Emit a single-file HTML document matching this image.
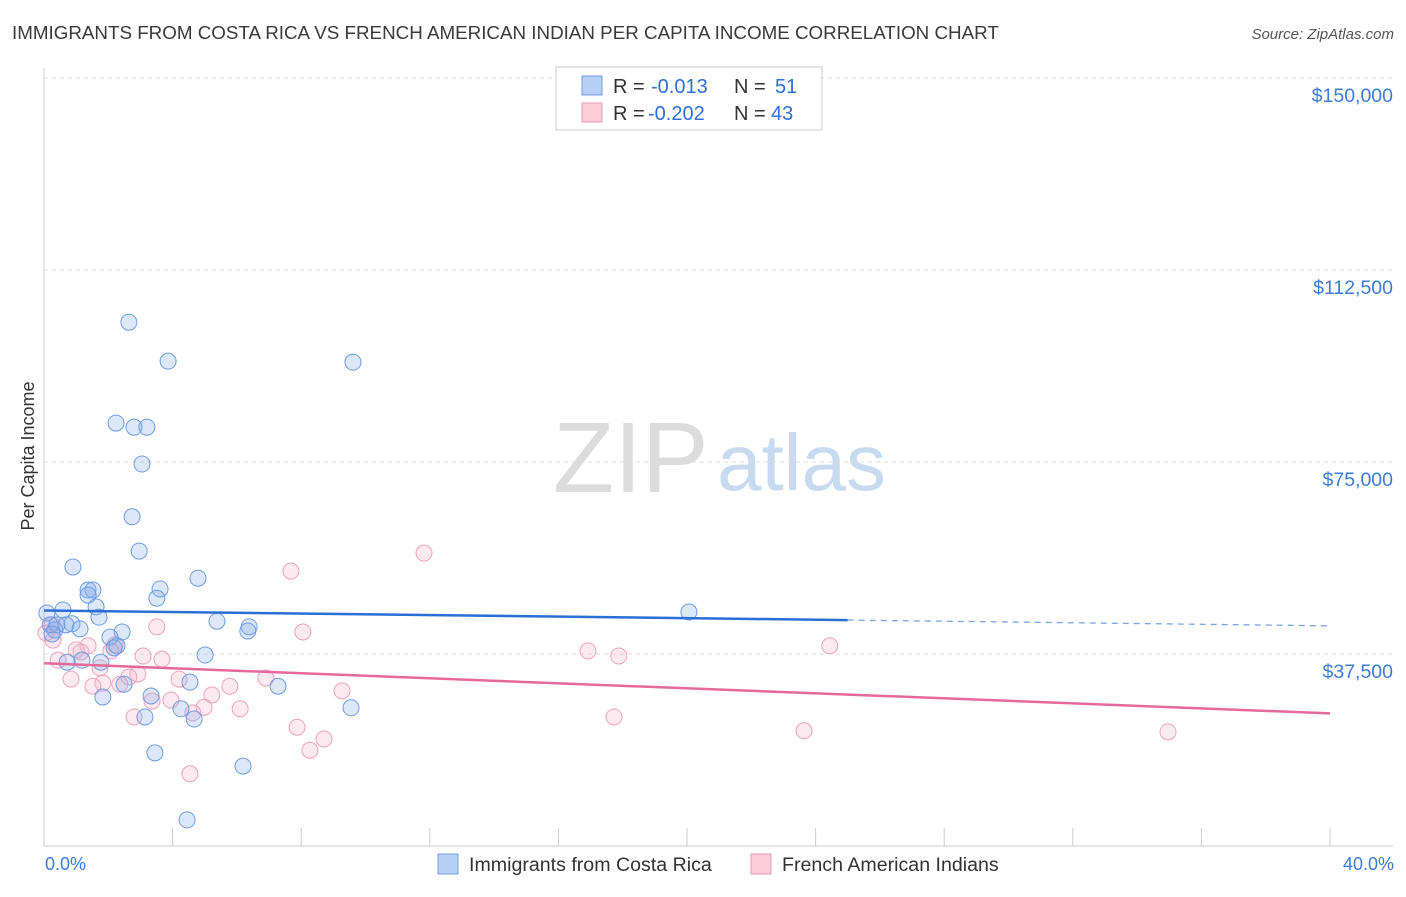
<!DOCTYPE html>
<html><head><meta charset="utf-8"><style>
body{margin:0;background:#fff;font-family:"Liberation Sans",sans-serif;}
svg text{font-family:"Liberation Sans",sans-serif;}
</style></head><body>
<svg id="chart" width="1406" height="892" viewBox="0 0 1406 892" xmlns="http://www.w3.org/2000/svg">
<text x="12" y="39" font-size="18.8" fill="#3a3a3a">IMMIGRANTS FROM COSTA RICA VS FRENCH AMERICAN INDIAN PER CAPITA INCOME CORRELATION CHART</text>
<text x="1394" y="39" font-size="15" fill="#555" font-style="italic" text-anchor="end">Source: ZipAtlas.com</text>
<g>
<text x="553" y="492" font-size="100" fill="#dcdcdc" font-family="Liberation Serif,serif">ZIP</text>
<text x="717" y="490" font-size="80" fill="#c8daf0">atlas</text>
</g>
<g id="grid"></g>
<g id="axes"></g>
<g id="marks"></g>
<g>
<rect x="556" y="67" width="266" height="63" fill="#fff" stroke="#ccc"/>
<rect x="582" y="76" width="20" height="19" fill="#b8d0f5" stroke="#6f9de0"/>
<rect x="582" y="103" width="20" height="19" fill="#fbcddb" stroke="#ec9ab6"/>
<text y="93" font-size="20" fill="#333"><tspan x="613">R =</tspan><tspan x="651" fill="#2f6fd6">-0.013</tspan><tspan x="734">N =</tspan><tspan x="775" fill="#2f6fd6">51</tspan></text>
<text y="120" font-size="20" fill="#333"><tspan x="613">R =</tspan><tspan x="648" fill="#2f6fd6">-0.202</tspan><tspan x="734">N =</tspan><tspan x="771" fill="#2f6fd6">43</tspan></text>
</g>
<text transform="translate(34,456) rotate(-90)" font-size="18" fill="#333" text-anchor="middle">Per Capita Income</text>
<text x="45" y="870" font-size="18" fill="#3d7bd9">0.0%</text>
<text x="1394" y="870" font-size="18" fill="#3d7bd9" text-anchor="end">40.0%</text>
<g>
<rect x="438" y="854" width="20" height="20" fill="#b8d0f5" stroke="#6f9de0"/>
<text x="469" y="871" font-size="19.6" fill="#333">Immigrants from Costa Rica</text>
<rect x="751" y="854" width="20" height="20" fill="#fbcddb" stroke="#ec9ab6"/>
<text x="782" y="871" font-size="19.6" fill="#333">French American Indians</text>
</g>
</svg>
<script>
const yTicks=[37500,75000,112500,150000];
const yTickLabels=["$37,500","$75,000","$112,500","$150,000"];
const blueX=[2.64,3.86,9.61,2.24,2.80,3.20,3.05,2.74,2.96,0.90,4.79,1.37,1.52,3.61,3.51,1.37,1.62,20.06,0.59,0.09,1.71,5.38,0.19,0.40,0.68,0.87,1.12,0.34,2.43,6.38,6.34,2.05,2.27,2.18,0.25,5.01,1.77,1.18,0.72,3.33,4.54,7.28,2.49,1.83,4.26,9.55,3.14,4.67,3.45,6.19,4.45];
const blueY=[102300,94700,94500,82600,81800,81800,74600,64300,57600,54500,52300,50000,50000,50200,48400,49000,46700,45700,46100,45500,44700,43900,43200,43200,43200,43400,42400,42200,41800,42800,42000,40800,39100,38700,41400,37300,35900,36300,35900,29300,32000,31200,31600,29100,26800,27000,25200,24800,18200,15600,5100];
const pinkX=[11.82,7.68,3.51,8.05,0.06,0.28,1.37,2.21,1.15,16.92,17.88,24.44,3.08,3.67,0.44,1.74,2.92,2.64,6.90,4.20,0.84,1.52,1.83,5.78,2.36,9.27,5.22,3.95,4.98,3.36,6.10,4.63,2.80,17.73,7.87,8.71,8.27,23.64,34.96,4.54,1.0,2.08,0.25];
const pinkY=[57200,53700,42800,41800,41600,40200,39100,39300,37900,38100,37100,39100,37100,36500,36300,34800,33600,33000,32800,32600,32600,31200,31800,31200,31600,30300,29500,28500,27100,28300,26800,26000,25200,25200,23200,20900,18700,22500,22300,14100,38300,38100,43200];
const blueTrend=[46000,43000];
const pinkTrend=[35700,25900];
const NS="http://www.w3.org/2000/svg";
const X=p=>44+p/40*1286;
const Y=v=>846-v/37500*192;
function mk(t,a,parent){const e=document.createElementNS(NS,t);for(const k in a)e.setAttribute(k,a[k]);parent.appendChild(e);return e;}
const grid=document.getElementById('grid'),axes=document.getElementById('axes'),marks=document.getElementById('marks');
yTicks.forEach((v,i)=>{
 const l=mk('line',{x1:44,x2:1393,y1:Y(v),y2:Y(v),stroke:'#ddd','stroke-dasharray':'4,4'},grid);
 
 
 const t=mk('text',{x:1393,y:Y(v)+24,'font-size':19.5,fill:'#3d7bd9','text-anchor':'end'},axes);
 t.textContent=yTickLabels[i];
 
 
});
const ax=mk('line',{x1:44,x2:44,y1:68,y2:846,stroke:'#ccc'},axes);


const bx=mk('line',{x1:44,x2:1393,y1:846,y2:846,stroke:'#ccc'},axes);


for(let p=0;p<=40;p+=4){
 const tk=mk('line',{x1:X(p),x2:X(p),y1:828,y2:846,stroke:'#ccc'},axes);
 
 
}
function pts(xs,ys,fill,stroke,name){
 xs.forEach((x,i)=>{
  const c=mk('circle',{cx:X(x),cy:Y(ys[i]),r:8,fill:fill,stroke:stroke,'stroke-width':1},marks);
  
  
 });
}
pts(pinkX,pinkY,'rgba(248,175,200,0.28)','#eea3bd','pink-point');
pts(blueX,blueY,'rgba(130,170,235,0.28)','#6f9de0','blue-point');
const slope=(t)=> (t[1]-t[0])/40;
const bl=mk('line',{x1:X(0),y1:Y(blueTrend[0]),x2:X(25),y2:Y(blueTrend[0]+slope(blueTrend)*25),stroke:'#2a6fd6','stroke-width':2.5},marks);


const bd=mk('line',{x1:X(25),y1:Y(blueTrend[0]+slope(blueTrend)*25),x2:X(40),y2:Y(blueTrend[1]),stroke:'#7aa5e6','stroke-width':1.3,'stroke-dasharray':'6,5'},marks);


const pl=mk('line',{x1:X(0),y1:Y(pinkTrend[0]),x2:X(40),y2:Y(pinkTrend[1]),stroke:'#e5699a','stroke-width':2.5},marks);


</script>
</body></html>
